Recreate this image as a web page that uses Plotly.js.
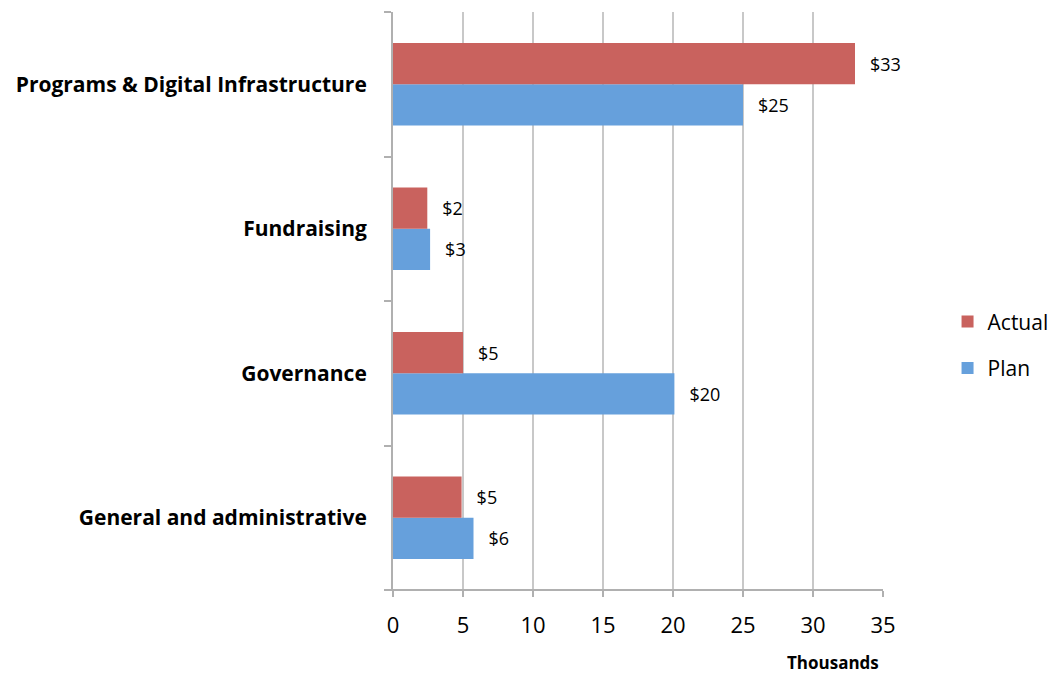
<!DOCTYPE html>
<html>
<head>
<meta charset="utf-8">
<script src="https://cdn.plot.ly/plotly-3.0.1.min.js"></script>
<style>html,body{margin:0;padding:0;background:#fff;}#chart{width:1054px;height:675px;}</style>
</head>
<body>
<div id="chart"></div>
<script>
// Categories listed bottom to top
const categories = ["General and administrative", "Governance", "Fundraising", "Programs & Digital Infrastructure"];
const actualValues = [4.9, 5.0, 2.45, 33.0];
const planValues = [5.75, 20.1, 2.65, 25.0];
const actualLabels = ["$5", "$5", "$2", "$33"];
const planLabels = ["$6", "$20", "$3", "$25"];
const xTicks = [0, 5, 10, 15, 20, 25, 30, 35];

const pad = "\u2002\u2009";
const font = "'Open Sans', sans-serif";

const plan = {
  type: "bar", orientation: "h", name: "Plan", legendgroup: "g2", legendrank: 2,
  y: categories, x: planValues,
  text: planLabels.map(t => pad + t), textposition: "outside", cliponaxis: false,
  textfont: {family: font, size: 18, color: "#000"},
  marker: {color: "#66A0DC"}, hoverinfo: "none"
};
const actual = {
  type: "bar", orientation: "h", name: "Actual", legendgroup: "g1", legendrank: 1,
  y: categories, x: actualValues,
  text: actualLabels.map(t => pad + t), textposition: "outside", cliponaxis: false,
  textfont: {family: font, size: 18, color: "#000"},
  marker: {color: "#C9625E"}, hoverinfo: "none"
};

const layout = {
  width: 1054, height: 675,
  margin: {l: 393, r: 171, t: 12, b: 85},
  paper_bgcolor: "#fff", plot_bgcolor: "#fff",
  barmode: "group", bargap: 0.43, bargroupgap: 0,
  showlegend: true,
  legend: {xref: "container", yref: "container", x: 0.899, y: 0.489, yanchor: "middle", xanchor: "left",
           traceorder: "grouped", tracegroupgap: 16,
           font: {family: font, size: 21, color: "#000"}, itemwidth: 30},
  xaxis: {
    range: [0, 35], tickvals: xTicks, ticktext: xTicks.map(String),
    showgrid: true, gridcolor: "#c8c8c8", gridwidth: 2,
    showline: false, zeroline: false,
    ticks: "outside", ticklen: 6, tickcolor: "#b0b0b0", tickwidth: 2,
    tickfont: {family: font, size: 22, color: "#000"},
    ticklabelstandoff: 10
  },
  yaxis: {
    type: "category", range: [-0.5, 3.5],
    tickson: "boundaries", ticks: "outside", ticklen: 7, tickcolor: "#b0b0b0", tickwidth: 2,
    showline: true, linecolor: "#b0b0b0", linewidth: 2,
    showgrid: false, zeroline: false,
    tickfont: {family: font, size: 21, color: "#000", weight: "bold"},
    ticklabelstandoff: 20
  },
  shapes: [{type: "line", xref: "paper", yref: "paper", x0: -0.016, x1: 1, y0: 0, y1: 0,
            line: {color: "#b0b0b0", width: 2}}],
  annotations: [{
    text: "<b>Thousands</b>", xref: "paper", yref: "paper", x: 0.897, y: -0.125,
    xanchor: "center", yanchor: "middle", showarrow: false,
    font: {family: font, size: 17, color: "#000"}
  }]
};

Plotly.newPlot("chart", [plan, actual], layout, {displayModeBar: false, staticPlot: true});
</script>
</body>
</html>
